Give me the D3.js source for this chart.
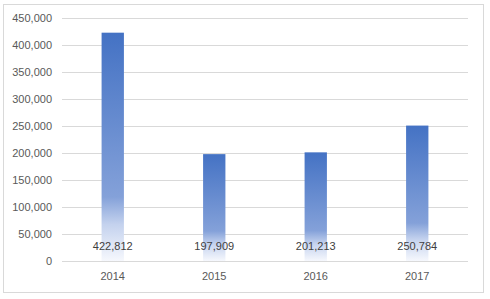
<!DOCTYPE html>
<html>
<head>
<meta charset="utf-8">
<script src="https://cdn.jsdelivr.net/npm/d3@7"></script>
<style>
  body { margin: 0; background: #fff; }
  text { font-family: "Liberation Sans", Arial, sans-serif; }
</style>
</head>
<body>
<div id="chart"></div>
<script>
const years = ["2014", "2015", "2016", "2017"];
const values = [422812, 197909, 201213, 250784];
const yTicks = [0, 50000, 100000, 150000, 200000, 250000, 300000, 350000, 400000, 450000];

const width = 490;
const height = 299;
const margin = { top: 18, right: 22, bottom: 38, left: 62 };

const svg = d3.select("#chart")
  .append("svg")
  .attr("width", width)
  .attr("height", height);

// gradient fill like the Excel preset
const grad = svg.append("defs")
  .append("linearGradient")
  .attr("id", "barGrad")
  .attr("x1", 0).attr("y1", 0)
  .attr("x2", 0).attr("y2", 1);
grad.append("stop").attr("offset", "0%").attr("stop-color", "#4472c4");
grad.append("stop").attr("offset", "72%").attr("stop-color", "#84a1d9");
grad.append("stop").attr("offset", "84%").attr("stop-color", "#c4d2ee");
grad.append("stop").attr("offset", "100%").attr("stop-color", "#f6f8fd");

// outer chart border
svg.append("rect")
  .attr("x", 3.5).attr("y", 4.5)
  .attr("width", 480).attr("height", 288)
  .attr("fill", "none")
  .attr("stroke", "#d9d9d9");

const x = d3.scaleBand()
  .domain(years)
  .range([margin.left, width - margin.right])
  .paddingInner(0.78)
  .paddingOuter(0.39);

const y = d3.scaleLinear()
  .domain([0, 450000])
  .range([height - margin.bottom, margin.top]);

// gridlines
svg.append("g")
  .selectAll("line")
  .data(yTicks)
  .enter()
  .append("line")
  .attr("x1", margin.left)
  .attr("x2", width - margin.right)
  .attr("y1", (d) => Math.round(y(d)) + 0.5)
  .attr("y2", (d) => Math.round(y(d)) + 0.5)
  .attr("stroke", "#d9d9d9");

// y labels
svg.append("g")
  .selectAll("text")
  .data(yTicks)
  .enter()
  .append("text")
  .attr("x", 52)
  .attr("y", (d) => y(d))
  .attr("dy", "0.35em")
  .attr("text-anchor", "end")
  .attr("font-size", 11)
  .attr("fill", "#595959")
  .text((d) => d3.format(",")(d));

// bars
svg.append("g")
  .selectAll("rect")
  .data(values)
  .enter()
  .append("rect")
  .attr("x", (d, i) => x(years[i]))
  .attr("y", (d) => y(d))
  .attr("width", x.bandwidth())
  .attr("height", (d) => y(0) - y(d))
  .attr("fill", "url(#barGrad)");

// value labels at the base
svg.append("g")
  .selectAll("text")
  .data(values)
  .enter()
  .append("text")
  .attr("x", (d, i) => x(years[i]) + x.bandwidth() / 2)
  .attr("y", y(0) - 15)
  .attr("dy", "0.35em")
  .attr("text-anchor", "middle")
  .attr("font-size", 11)
  .attr("fill", "#404040")
  .text((d) => d3.format(",")(d));

// x labels
svg.append("g")
  .selectAll("text")
  .data(years)
  .enter()
  .append("text")
  .attr("x", (d) => x(d) + x.bandwidth() / 2)
  .attr("y", y(0) + 15)
  .attr("dy", "0.35em")
  .attr("text-anchor", "middle")
  .attr("font-size", 11)
  .attr("fill", "#595959")
  .text((d) => d);
</script>
</body>
</html>
